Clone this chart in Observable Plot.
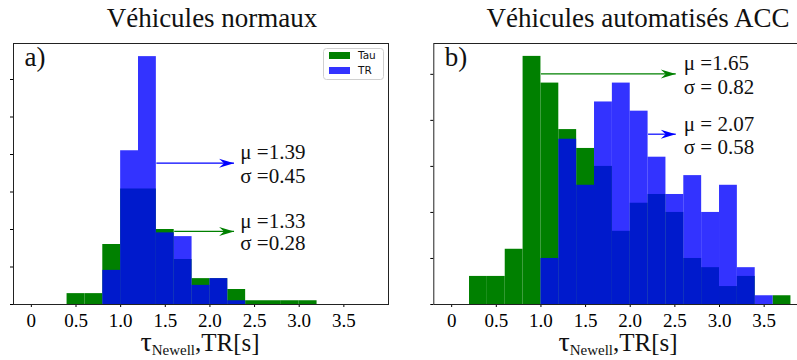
<!DOCTYPE html>
<html>
<head>
<meta charset="utf-8">
<script src="https://cdn.jsdelivr.net/npm/d3@7"></script>
<script src="https://cdn.jsdelivr.net/npm/@observablehq/plot@0.6"></script>
<style>
  html, body { margin: 0; padding: 0; background: #fff; }
  #chart { position: relative; width: 797px; height: 360px; overflow: hidden; background: #fff; }
  #chart > svg { position: absolute; top: 0; }
  #chart svg text { font-family: 'Liberation Serif', serif !important; }
  #chart svg text.legend { font-family: 'DejaVu Sans', sans-serif !important; }
</style>
</head>
<body>
<div id="chart"></div>
<script>
// ---- data (bin width 0.2 s) ----
const binWidth = 0.2;
const xTicks = [0, 0.5, 1.0, 1.5, 2.0, 2.5, 3.0, 3.5];
const xTickLabels = ["0", "0.5", "1.0", "1.5", "2.0", "2.5", "3.0", "3.5"];

// a) Véhicules normaux
const tauLeftStart = 0.4;
const tauLeft = [0.29, 0.29, 1.6, 3.08, 3.08, 2.0, 1.2, 0.69, 0.69, 0.4, 0.1, 0.1, 0.1, 0.1];
const trLeftStart = 0.8;
const trLeft = [0.91, 4.1, 6.61, 1.91, 1.81, 0.51, 0.69, 0.1];

// b) Véhicules automatisés ACC
const tauRightStart = 0.2;
const tauRight = [0.61, 0.61, 1.2, 5.39, 4.81, 3.8, 3.39, 3.0, 1.59, 2.2, 2.39, 2.0, 1.0, 0.8, 0.39, 0.61, 0, 0.19];
const trRightStart = 1.0;
const trRight = [1.0, 3.59, 2.59, 4.4, 4.81, 4.2, 3.2, 2.39, 2.8, 2.0, 2.59, 0.8, 0.19];

const seriesNames = ["Tau", "TR"];
const titles = ["Véhicules normaux", "Véhicules automatisés ACC"];
const panelLabels = ["a)", "b)"];

// annotation arrows (data units) and texts
const arrowsLeft = [
  {x1: 1.4, x2: 2.27, y: 3.77, color: "#0000ff"},
  {x1: 1.6, x2: 2.27, y: 1.95, color: "#008000"}
];
const textsLeft = [
  {x: 2.34, y: 4.05, text: "μ =1.39"},
  {x: 2.34, y: 3.41, text: "σ =0.45"},
  {x: 2.34, y: 2.21, text: "μ =1.33"},
  {x: 2.34, y: 1.63, text: "σ =0.28"}
];
const arrowsRight = [
  {x1: 1.0, x2: 2.51, y: 5.01, color: "#008000"},
  {x1: 2.2, x2: 2.51, y: 3.70, color: "#0000ff"}
];
const textsRight = [
  {x: 2.6, y: 5.24, text: "μ =1.65"},
  {x: 2.6, y: 4.72, text: "σ = 0.82"},
  {x: 2.6, y: 3.91, text: "μ = 2.07"},
  {x: 2.6, y: 3.41, text: "σ = 0.58"}
];

const toBins = (start, values) => values.map((v, i) => ({
  x1: +(start + i * binWidth).toFixed(2),
  x2: +(start + (i + 1) * binWidth).toFixed(2),
  y: v
}));

const dart = {
  draw(ctx) {
    ctx.moveTo(0, 0);
    ctx.lineTo(-15, -4.5);
    ctx.lineTo(-10, 0);
    ctx.lineTo(-15, 4.5);
    ctx.closePath();
  }
};

const serifFont = "Liberation Serif";

function panel({tau, tr, yMax, yTicks, label, arrows, texts, width, marginLeft, marginRight}) {
  return Plot.plot({
    width, height: 360,
    marginTop: 43, marginBottom: 56, marginLeft, marginRight,
    style: {fontFamily: "'Liberation Serif', serif", fontSize: "19px"},
    x: {domain: [-0.2, 4.0], ticks: xTicks, tickFormat: d => xTickLabels[xTicks.indexOf(d)], tickSize: 3, tickPadding: 6, label: null},
    y: {domain: [0, yMax], ticks: yTicks, tickSize: 3, tickFormat: () => "", label: null},
    color: {type: "identity"},
    marks: [
      Plot.rectY(tau, {x1: "x1", x2: "x2", y: "y", fill: "#008000", inset: 0}),
      Plot.rectY(tr, {x1: "x1", x2: "x2", y: "y", fill: "#0000ff", fillOpacity: 0.8, inset: 0}),
      Plot.link(arrows, {x1: "x1", x2: "x2", y1: "y", y2: "y", stroke: "color", strokeWidth: 1.2}),
      Plot.dot(arrows, {x: "x2", y: "y", fill: "color", stroke: null, symbol: dart}),
      Plot.text(texts, {x: "x", y: "y", text: "text", textAnchor: "start", lineAnchor: "middle", fontSize: 21, fontFamily: serifFont, fill: "#111"}),
      Plot.text([label], {frameAnchor: "top-left", text: d => d, dx: 11, dy: 3, lineAnchor: "top", fontSize: 27, fontFamily: serifFont, fill: "#111"}),
      Plot.frame({stroke: "#222"})
    ]
  });
}

const chart = document.getElementById("chart");

const left = panel({
  tau: toBins(tauLeftStart, tauLeft), tr: toBins(trLeftStart, trLeft),
  yMax: 6.96, yTicks: [0, 1, 2, 3, 4, 5, 6], label: panelLabels[0],
  arrows: arrowsLeft, texts: textsLeft,
  width: 400, marginLeft: 13, marginRight: 12
});
left.style.left = "0px";
left.style.background = "transparent";
chart.appendChild(left);

const right = panel({
  tau: toBins(tauRightStart, tauRight), tr: toBins(trRightStart, trRight),
  yMax: 5.67, yTicks: [0, 1, 2, 3, 4, 5], label: panelLabels[1],
  arrows: arrowsRight, texts: textsRight,
  width: 420, marginLeft: 33.3, marginRight: 11.7
});
right.style.left = "400px";
right.style.background = "transparent";
right.style.maxWidth = "none";
chart.appendChild(right);

// overlay: titles, axis labels, legend
const ov = d3.select(chart).append("svg")
  .attr("width", 797).attr("height", 360)
  .style("left", "0px").style("pointer-events", "none");

ov.selectAll("text.title").data([{x: 212, t: titles[0]}, {x: 638, t: titles[1]}]).join("text")
  .attr("x", d => d.x).attr("y", 27).attr("text-anchor", "middle")
  .attr("font-size", 27).attr("fill", "#111").text(d => d.t);

for (const cx of [200, 618]) {
  const t = ov.append("text").attr("x", cx).attr("y", 351).attr("text-anchor", "middle").attr("fill", "#111");
  t.append("tspan").attr("font-size", 28).text("τ");
  t.append("tspan").attr("font-size", 15).attr("dy", 4).text("Newell");
  t.append("tspan").attr("font-size", 25).attr("dy", -4).text(",TR[s]");
}

const lg = ov.append("g");
lg.append("rect").attr("x", 323.5).attr("y", 48.5).attr("width", 60).attr("height", 31).attr("rx", 3)
  .attr("fill", "#fff").attr("fill-opacity", 0.8).attr("stroke", "#d0d0d0");
const legendItems = [{name: seriesNames[0], fill: "#008000", op: 1, y: 52}, {name: seriesNames[1], fill: "#0000ff", op: 0.8, y: 67}];
for (const it of legendItems) {
  lg.append("rect").attr("x", 329).attr("y", it.y).attr("width", 21).attr("height", 7)
    .attr("fill", it.fill).attr("fill-opacity", it.op);
  lg.append("text").attr("class", "legend").attr("x", 358).attr("y", it.y + 7)
    .attr("font-size", 10.5).attr("fill", "#111").text(it.name);
}
</script>
</body>
</html>
